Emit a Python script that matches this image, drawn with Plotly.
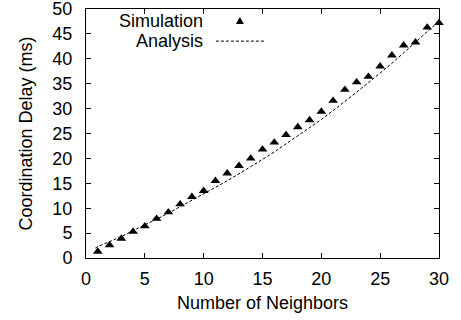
import plotly.graph_objects as go

neighbors = list(range(1, 31))
simulation = [1.3, 2.6, 3.9, 5.3, 6.4, 7.9, 9.2, 10.8, 12.3, 13.5,
              15.5, 17.0, 18.5, 20.0, 21.8, 23.2, 24.7, 26.3, 27.7, 29.4,
              31.6, 33.8, 35.3, 36.4, 38.5, 40.7, 42.7, 43.3, 46.3, 47.2]
analysis_x = [0.8] + list(range(1, 31))
analysis = [2.0, 2.3, 3.3, 4.3, 5.5, 6.6, 7.8, 9.0, 10.3, 11.5, 12.8,
            14.1, 15.5, 16.9, 18.3, 19.8, 21.3, 22.9, 24.5, 26.1, 27.8,
            29.6, 31.4, 33.3, 35.2, 37.1, 39.1, 41.2, 43.3, 45.4, 47.6]
x_ticks = [0, 5, 10, 15, 20, 25, 30]
y_ticks = [0, 5, 10, 15, 20, 25, 30, 35, 40, 45, 50]

FONT = "Liberation Sans, Arial, Helvetica, sans-serif"
FS = 18

fig = go.Figure()
fig.add_trace(go.Scatter(x=analysis_x, y=analysis, mode="lines", name="Analysis",
                         line=dict(color="black", width=1, dash="3px,2px"),
                         showlegend=False, cliponaxis=False))
fig.add_trace(go.Scatter(x=neighbors, y=simulation, mode="markers", name="Simulation",
                         marker=dict(symbol="triangle-up", size=8.5, color="black"),
                         showlegend=False, cliponaxis=False))

axis_common = dict(showline=True, linecolor="black", linewidth=1, mirror="ticks",
                   ticks="inside", ticklen=5, tickwidth=1, tickcolor="black",
                   showgrid=False, zeroline=False, automargin=False,
                   ticklabeloverflow="allow",
                   tickfont=dict(family=FONT, size=FS, color="black"))

fig.update_xaxes(range=[0, 30], tickvals=x_ticks, ticklabelstandoff=4,
                 title=dict(text="Number of Neighbors", font=dict(family=FONT, size=FS, color="black"), standoff=8),
                 **axis_common)
fig.update_yaxes(range=[0, 50], tickvals=y_ticks, ticklabelstandoff=9,
                 title=dict(text="Coordination Delay (ms)", font=dict(family=FONT, size=FS, color="black"), standoff=15),
                 **axis_common)

# gnuplot-style key: text right-aligned, sample to the right
fig.add_annotation(x=0.337, y=0.952, xref="paper", yref="paper", text="Simulation",
                   showarrow=False, xanchor="right", yanchor="middle",
                   font=dict(family=FONT, size=FS, color="black"))
fig.add_annotation(x=0.337, y=0.871, xref="paper", yref="paper", text="Analysis",
                   showarrow=False, xanchor="right", yanchor="middle",
                   font=dict(family=FONT, size=FS, color="black"))
fig.add_shape(type="path", xref="paper", yref="paper", xsizemode="pixel", ysizemode="pixel",
              xanchor=0.436, yanchor=0.952, path="M-4,-3 L4,-3 L0,4 Z",
              fillcolor="black", line=dict(color="black", width=0))
fig.add_shape(type="line", xref="paper", yref="paper", x0=0.368, x1=0.507, y0=0.871, y1=0.871,
              line=dict(color="black", width=1, dash="3px,2px"))

fig.update_layout(width=461, height=320, margin=dict(l=86, r=22, t=9, b=62),
                  plot_bgcolor="white", paper_bgcolor="white",
                  font=dict(family=FONT, size=FS, color="black"))

# remove the page's default 8px body margin so the figure sits at the window's corner
fig.write_html("out.html", config={"displayModeBar": False},
               post_script="document.body.style.margin='0px';")
